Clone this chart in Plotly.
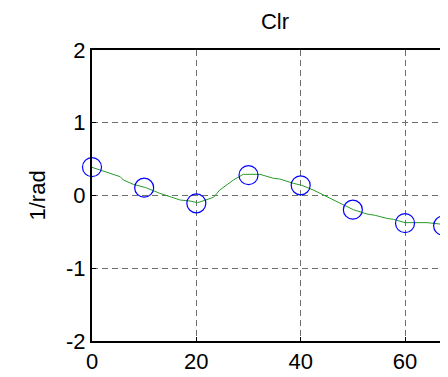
import plotly.graph_objects as go

# Sampled points (blue circles)
pt_x = [0, 10, 20, 30, 40, 50, 60, 67.3]
pt_y = [0.39, 0.107, -0.107, 0.28, 0.14, -0.195, -0.38, -0.415]

# Fine curve (green line)
ln_x = [0, 5.4, 6.0, 7.9, 10.3, 13.0, 16.9, 18.8, 20.25, 22.0, 23.3, 24.5, 27.1,
        29.0, 32.2, 34.8, 36.0, 38.6, 40.2, 42.4, 45.0, 47.5, 50.1, 52.7, 54.3,
        56.5, 57.8, 60.0, 64.2, 66.7, 67.3, 68.2]
ln_y = [0.387, 0.259, 0.213, 0.154, 0.108, 0.030, -0.062, -0.076, -0.099, -0.062,
        -0.025, 0.076, 0.213, 0.291, 0.291, 0.236, 0.227, 0.167, 0.140, 0.076,
        -0.016, -0.108, -0.195, -0.254, -0.273, -0.314, -0.328, -0.373, -0.373,
        -0.392, -0.396, -0.360]

x_ticks = [0, 20, 40, 60]
y_ticks = [-2, -1, 0, 1, 2]

FONT = "Liberation Sans, Arial, sans-serif"

# page body has an 8px margin: figure placed at (8, 8)
W, H = 440, 369
ML, MT, MB = 84, 42, 36
PW = W - ML  # plot width in px

fig = go.Figure()
fig.add_trace(go.Scatter(x=ln_x, y=ln_y, mode="lines",
                         line=dict(color="#2a9a2a", width=1), showlegend=False))
fig.add_trace(go.Scatter(x=pt_x, y=pt_y, mode="markers",
                         marker=dict(symbol="circle-open", size=19,
                                     color="#0000ff", line=dict(width=1.2, color="#0000ff")),
                         cliponaxis=False, showlegend=False))

fig.update_layout(
    width=W, height=H,
    margin=dict(l=ML, r=0, t=MT, b=MB, autoexpand=False),
    paper_bgcolor="white", plot_bgcolor="white",
    font=dict(family=FONT, size=22, color="black"),
    title=dict(text="Clr", x=(275 - 8) / W, xref="container", xanchor="center",
               y=1 - (21 - 8) / H, yref="container", yanchor="middle",
               font=dict(size=22)),
    annotations=[dict(text="1/rad", textangle=-90, xref="paper", yref="paper",
                      x=-(92 - 37) / PW, y=0.5, xanchor="center", yanchor="middle",
                      showarrow=False, font=dict(size=22))],
)
fig.update_xaxes(
    range=[0, PW / 5.217], tickvals=x_ticks, ticktext=[str(v) for v in x_ticks],
    showgrid=True, gridcolor="#6e6e6e", gridwidth=1.4, griddash="6px,4px",
    showline=True, linecolor="black", linewidth=2, mirror=True,
    ticks="inside", ticklen=4, tickcolor="black", zeroline=False,
)
fig.update_yaxes(
    range=[-2, 2], tickvals=y_ticks, ticktext=[str(v) for v in y_ticks],
    showgrid=True, gridcolor="#6e6e6e", gridwidth=1.4, griddash="6px,4px",
    showline=True, linecolor="black", linewidth=2, mirror=False,
    ticks="inside", ticklen=4, tickcolor="black", zeroline=False,
)

fig.write_html("out.html")
